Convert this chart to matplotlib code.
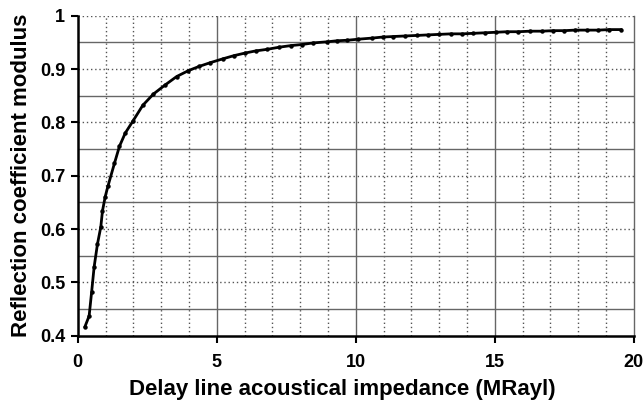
import matplotlib.pyplot as plt
import numpy as np

# values
impedance = [0.26, 0.41, 0.50, 0.59, 0.71, 0.83, 0.89, 0.99, 1.09, 1.32, 1.50,
             1.71, 1.98, 2.34, 2.72, 3.14, 3.56, 3.98, 4.37, 4.77, 5.21, 5.61,
             6.02, 6.40, 6.82, 7.25, 7.67, 8.06, 8.47, 8.96, 9.32, 9.70, 10.10,
             10.58, 10.97, 11.35, 11.77, 12.19, 12.59, 13.00, 13.43, 13.83,
             14.23, 14.65, 15.05, 15.45, 15.85, 16.27, 16.69, 17.11, 17.50,
             17.89, 18.31, 18.73, 19.12, 19.54]
reflection = [0.417, 0.437, 0.482, 0.529, 0.572, 0.604, 0.634, 0.661, 0.681,
              0.723, 0.755, 0.780, 0.802, 0.832, 0.853, 0.870, 0.886, 0.897,
              0.905, 0.912, 0.919, 0.925, 0.930, 0.934, 0.937, 0.941, 0.944,
              0.946, 0.949, 0.951, 0.953, 0.954, 0.956, 0.958, 0.960, 0.961,
              0.962, 0.963, 0.964, 0.965, 0.966, 0.966, 0.967, 0.968, 0.969,
              0.970, 0.970, 0.971, 0.971, 0.972, 0.972, 0.973, 0.973, 0.973,
              0.974, 0.974]

xticks = [0, 5, 10, 15, 20]
yticks = [0.4, 0.5, 0.6, 0.7, 0.8, 0.9, 1.0]
yticklabels = ['0.4', '0.5', '0.6', '0.7', '0.8', '0.9', '1']

plt.rcParams['font.family'] = ['Liberation Sans', 'DejaVu Sans']
plt.rcParams['font.weight'] = 'bold'

fig = plt.figure(figsize=(6.44, 4.03), dpi=100)
ax = fig.add_axes([0.1207, 0.167, 0.8633, 0.794])

ax.set_xlim(0, 20)
ax.set_ylim(0.4, 1.0)

# minor grid: dotted, every 1 in x and on the labelled y values
for x in range(1, 20):
    if x % 5:
        ax.axvline(x, color='#555555', lw=1.0, ls=(0, (1, 2)), zorder=1)
for y in yticks[1:]:
    ax.axhline(y, color='#555555', lw=1.0, ls=(0, (1, 2)), zorder=1)
# solid grid on the halves
for y in np.arange(0.45, 1.0, 0.1):
    ax.axhline(y, color='#666666', lw=1.0, zorder=1)
for x in [5, 10, 15]:
    ax.axvline(x, color='#666666', lw=1.0, zorder=1)

ax.plot(impedance, reflection, color='black', lw=2.0, marker='o', ms=2.2, zorder=3)

ax.set_xticks(xticks)
ax.set_yticks(yticks)
ax.set_yticklabels(yticklabels)
ax.tick_params(direction='out', length=5, width=1.5, labelsize=13, pad=4)
ax.tick_params(axis='x', pad=8)

ax.spines['top'].set_visible(False)
ax.spines['right'].set_color('#666666')
ax.spines['right'].set_linewidth(1.0)
ax.spines['left'].set_linewidth(1.8)
ax.spines['bottom'].set_linewidth(1.8)

ax.set_xlabel('Delay line acoustical impedance (MRayl)', fontsize=16, fontweight='bold')
ax.xaxis.set_label_coords(0.475, -0.135)
ax.xaxis.label.set_verticalalignment('top')
ax.set_ylabel('Reflection coefficient modulus', fontsize=16, fontweight='bold', labelpad=6)

fig.savefig('out.png', dpi=100)
